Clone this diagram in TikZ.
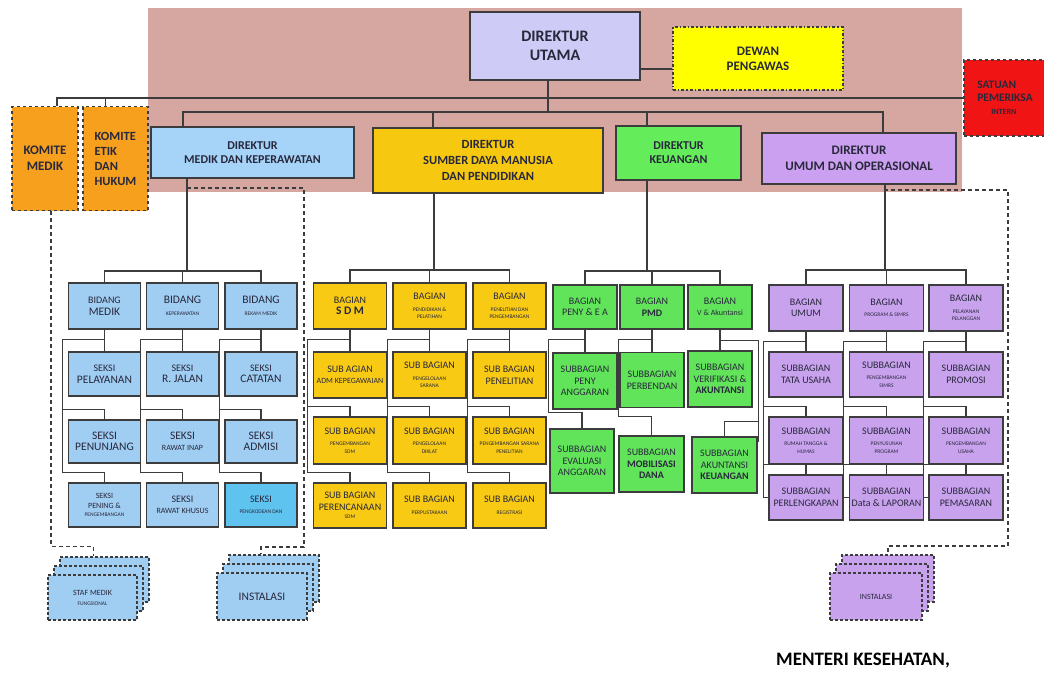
\documentclass[tikz,border=0pt]{standalone}
\usepackage{fontspec}
\setmainfont{Carlito}
\usetikzlibrary{calc}

\definecolor{pinkbg}{RGB}{214,166,161}
\definecolor{duC}{RGB}{207,203,247}
\definecolor{dewC}{RGB}{255,255,0}
\definecolor{satC}{RGB}{240,20,20}
\definecolor{dmC}{RGB}{166,212,248}
\definecolor{sdmC}{RGB}{247,200,16}
\definecolor{keuC}{RGB}{100,236,90}
\definecolor{umC}{RGB}{204,160,240}
\definecolor{orgC}{RGB}{247,160,30}
\definecolor{bluC}{RGB}{160,205,242}
\definecolor{bluH}{RGB}{95,195,240}
\definecolor{yelC}{RGB}{248,202,20}
\definecolor{grnC}{RGB}{98,228,90}
\definecolor{purC}{RGB}{201,162,238}
\definecolor{edge}{RGB}{60,60,60}
\definecolor{ink}{RGB}{40,40,60}

\newcommand{\szL}{\fontsize{11.5}{13}\selectfont}
\newcommand{\szM}{\fontsize{8}{9.5}\selectfont}
\newcommand{\szS}{\fontsize{5.5}{7}\selectfont}

% bagian -> three sub units, spine on the left
\newcommand{\branch}[4]{%
  \draw[conn] (#1.south) -- (#2.north);
  \draw[conn] ($(#1.south)+(0,10)$) -| ($(#4.north west)+(-5,-10)$) -| (#4.north);
  \draw[conn] ($(#3.north west)+(-5,-10)$) -| (#3.north);
}

\tikzset{
  box/.style={draw=edge, line width=1.3pt, align=center, inner sep=1pt, text=ink,
    font=\fontsize{10}{11.5}\selectfont},
  head/.style={box, font=\fontsize{12}{14}\selectfont\bfseries},
  conn/.style={draw=edge, line width=1.1pt},
  dl/.style={draw=edge, line width=1.1pt, dash pattern=on 4pt off 3pt},
  stk/.style={draw=edge, line width=1.2pt, dash pattern=on 3pt off 2pt, align=center, text=ink},
  bl/.style={box, fill=bluC, minimum width=72pt},
  yl/.style={box, fill=yelC, minimum width=73pt},
  gr/.style={box, fill=grnC, minimum width=64pt},
  pu/.style={box, fill=purC, minimum width=74pt}
}

\begin{document}
\begin{tikzpicture}[x=1pt, y=-1pt]
\useasboundingbox (0,0) rectangle (1044,675);
\fill[pinkbg] (148,8) rectangle (962,192);

% top level
\node[head, fill=duC, minimum width=170pt, minimum height=68pt, font=\fontsize{16}{19}\selectfont\bfseries] (du) at (555,46) {DIREKTUR\\UTAMA};
\node[head, fill=dewC, dash dot, minimum width=170pt, minimum height=63pt, font=\fontsize{13}{15}\selectfont\bfseries] (dewan) at (758,58.5) {DEWAN\\PENGAWAS};
\node[head, fill=satC, dashed, minimum width=82pt, minimum height=76pt, align=left, font=\fontsize{11.5}{13}\selectfont\bfseries] (sat) at (1005,98) {SATUAN\\PEMERIKSA\\\hspace{14pt}\szM INTERN};
\node[head, fill=orgC, dashed, minimum width=66pt, minimum height=104pt, font=\fontsize{13}{16}\selectfont\bfseries] (kmed) at (45,158.5) {KOMITE\\MEDIK};
\node[head, fill=orgC, dashed, minimum width=65pt, minimum height=104pt, align=left, font=\fontsize{12.5}{15}\selectfont\bfseries] (ketik) at (115.5,158.5) {KOMITE\\ETIK\\DAN\\HUKUM};

\node[head, fill=dmC, minimum width=203pt, minimum height=51pt] (dirM) at (252.5,152.5) {DIREKTUR\\MEDIK DAN KEPERAWATAN};
\node[head, fill=sdmC, minimum width=230pt, minimum height=65pt, font=\fontsize{12.5}{16}\selectfont\bfseries] (dirS) at (488,160.5) {DIREKTUR\\SUMBER DAYA MANUSIA\\DAN PENDIDIKAN};
\node[head, fill=keuC, minimum width=125pt, minimum height=54pt] (dirK) at (678.5,153) {DIREKTUR\\KEUANGAN};
\node[head, fill=umC, minimum width=194pt, minimum height=51pt, font=\fontsize{13}{16}\selectfont\bfseries] (dirU) at (859,158.5) {DIREKTUR\\UMUM DAN OPERASIONAL};

\draw[conn] (du.-15) -- (du.-15 -| dewan.west);
\draw[conn] ([xshift=12pt]kmed.north) |- (sat.west);
\draw[conn] ([xshift=-10pt]ketik.north) |- (sat.west);
\coordinate (bD) at (548,112);
\draw[conn] (du.south -| bD) -- (bD);
\draw[conn] ([xshift=-69.5pt]dirM.north) |- (bD) -| ([xshift=24pt]dirU.north);
\draw[conn] ([xshift=-55pt]dirS.north) |- (bD);
\draw[conn] ([xshift=-31.5pt]dirK.north) |- (bD);

% medik dan keperawatan
\node[bl, minimum height=46pt] (bidM) at (104.5,306) {BIDANG\\\szL MEDIK};
\node[bl, minimum height=46pt] (bidK) at (182.5,306) {\szL BIDANG\\\szS KEPERAWATAN};
\node[bl, minimum height=46pt] (bidR) at (261,306) {\szL BIDANG\\\szS REKAM MEDIK};
\node[bl, minimum height=44pt] (s11) at (104.5,374) {SEKSI\\\szL PELAYANAN};
\node[bl, minimum height=44pt] (s12) at (182.5,374) {SEKSI\\\szL R. JALAN};
\node[bl, minimum height=44pt] (s13) at (261,374) {SEKSI\\\szL CATATAN};
\node[bl, minimum height=43pt] (s21) at (104.5,441.5) {\szL SEKSI\\\szL PENUNJANG};
\node[bl, minimum height=43pt] (s22) at (182.5,441.5) {\szL SEKSI\\\szM RAWAT INAP};
\node[bl, minimum height=43pt] (s23) at (261,441.5) {\szL SEKSI\\\szL ADMISI};
\node[bl, minimum height=44pt] (s31) at (104.5,505) {\szM SEKSI\\[-2pt]\szM PENING \&\\[-3pt]\szS PENGEMBANGAN};
\node[bl, minimum height=44pt] (s32) at (182.5,505) {SEKSI\\\szM RAWAT KHUSUS};
\node[bl, fill=bluH, minimum height=44pt] (s33) at (261,505) {SEKSI\\\szS PENGKODEAN DAN};

\coordinate (bM) at (187,271);
\draw[conn] (dirM.south -| bM) -- (bM);
\draw[conn] (bidM.north) |- (bM) -| (bidR.north);
\draw[conn] (bidK.north) -- (bidK.north |- bM);
\branch{bidM}{s11}{s21}{s31}
\branch{bidK}{s12}{s22}{s32}
\branch{bidR}{s13}{s23}{s33}

% sumber daya manusia
\node[yl, minimum height=46pt] (sdm) at (350,306) {BAGIAN\\\szL\bfseries S D M};
\node[yl, minimum height=46pt] (pend) at (429.5,306) {BAGIAN\\\szS PENDIDIKAN \&\\[-4pt]\szS PELATIHAN};
\node[yl, minimum height=46pt] (pen) at (509.5,306) {BAGIAN\\\szS PENELITIAN DAN\\[-4pt]\szS PENGEMBANGAN};
\node[yl, minimum height=46pt] (y11) at (350,375) {SUB AGIAN\\\szM ADM KEPEGAWAIAN};
\node[yl, minimum height=46pt] (y12) at (429.5,375) {SUB BAGIAN\\\szS PENGELOLAAN\\[-4pt]\szS SARANA};
\node[yl, minimum height=46pt] (y13) at (509.5,375) {SUB BAGIAN\\PENELITIAN};
\node[yl, minimum height=47pt] (y21) at (350,440.5) {SUB BAGIAN\\\szS PENGEMBANGAN\\[-4pt]\szS SDM};
\node[yl, minimum height=47pt] (y22) at (429.5,440.5) {SUB BAGIAN\\\szS PENGELOLAAN\\[-4pt]\szS DIKLAT};
\node[yl, minimum height=47pt] (y23) at (509.5,440.5) {SUB BAGIAN\\\szS PENGEMBANGAN SARANA\\[-4pt]\szS PENELITIAN};
\node[yl, minimum height=45pt] (y31) at (350,505.5) {SUB BAGIAN\\PERENCANAAN\\[-3pt]\szS SDM};
\node[yl, minimum height=45pt] (y32) at (429.5,505.5) {SUB BAGIAN\\\szS PERPUSTAKAAN};
\node[yl, minimum height=45pt] (y33) at (509.5,505.5) {SUB BAGIAN\\\szS REGISTRASI};

\coordinate (bS) at (434,270);
\draw[conn] (dirS.south -| bS) -- (bS);
\draw[conn] (sdm.north) |- (bS) -| (pen.north);
\draw[conn] (pend.north) -- (pend.north |- bS);
\branch{sdm}{y11}{y21}{y31}
\branch{pend}{y12}{y22}{y32}
\branch{pen}{y13}{y23}{y33}

% keuangan
\node[gr, minimum height=44pt] (gb1) at (585,307) {BAGIAN\\PENY \& E A};
\node[gr, minimum height=44pt] (gb2) at (652,307) {BAGIAN\\\bfseries PMD};
\node[gr, minimum height=44pt] (gb3) at (720,307) {BAGIAN\\\szM V \& Akuntansi};
\node[gr, minimum height=56pt] (g11) at (585,381) {SUBBAGIAN\\PENY\\ANGGARAN};
\node[gr, minimum height=55pt] (g12) at (652,380) {SUBBAGIAN\\PERBENDAN};
\node[gr, minimum height=56pt] (g13) at (720,379) {SUBBAGIAN\\VERIFIKASI \&\\\bfseries AKUNTANSI};
\node[gr, minimum height=64pt] (g21) at (582,461) {SUBBAGIAN\\EVALUASI\\ANGGARAN};
\node[gr, minimum width=65pt, minimum height=56pt] (g22) at (651.5,464) {SUBBAGIAN\\\bfseries MOBILISASI\\\bfseries DANA};
\node[gr, minimum width=65pt, minimum height=56pt] (g23) at (724.5,465) {SUBBAGIAN\\AKUNTANSI\\\bfseries KEUANGAN};

\coordinate (bK) at (647,271);
\draw[conn] (dirK.south -| bK) -- (bK);
\draw[conn] (gb1.north) |- (bK) -| (gb3.north);
\draw[conn] (gb2.north) -- (gb2.north |- bK);
\draw[conn] (gb1.south) -- (g11.north);
\draw[conn] ($(gb1.south)+(0,10)$) -| ($(g21.north west)+(-1,-16)$) -| (g21.north);
\draw[conn] (gb2.south) -- (g12.north);
\draw[conn] ($(gb2.south)+(0,10)$) -| ($(g22.north west)+(0.5,-19)$) -| (g22.north);
\draw[conn] (gb3.south) -- (g13.north);
\draw[conn] ($(gb3.south)+(0,11)$) -| ($(g23.north east)+(1,6)$);
\draw[conn] ($(g23.north east)+(1,-15)$) -| (g23.north);

% umum dan operasional
\node[pu, minimum height=46pt] (pb1) at (806,308) {BAGIAN\\UMUM};
\node[pu, minimum height=46pt] (pb2) at (886.5,308) {BAGIAN\\\szS PROGRAM \& SIMRS};
\node[pu, minimum height=46pt] (pb3) at (966,308) {BAGIAN\\\szS PELAYANAN\\[-4pt]\szS PELANGGAN};
\node[pu, minimum height=45pt] (p11) at (806,374.5) {SUBBAGIAN\\TATA USAHA};
\node[pu, minimum height=45pt] (p12) at (886.5,374.5) {SUBBAGIAN\\\szS PENGEMBANGAN\\[-4pt]\szS SIMRS};
\node[pu, minimum height=45pt] (p13) at (966,374.5) {SUBBAGIAN\\PROMOSI};
\node[pu, minimum height=47pt] (p21) at (806,440.5) {SUBBAGIAN\\\szS RUMAH TANGGA \&\\[-4pt]\szS HUMAS};
\node[pu, minimum height=47pt] (p22) at (886.5,440.5) {SUBBAGIAN\\\szS PENYUSUNAN\\[-4pt]\szS PROGRAM};
\node[pu, minimum height=47pt] (p23) at (966,440.5) {SUBBAGIAN\\\szS PENGEMBANGAN\\[-4pt]\szS USAHA};
\node[pu, minimum height=45pt] (p31) at (806,497.5) {SUBBAGIAN\\PERLENGKAPAN};
\node[pu, minimum height=45pt] (p32) at (886.5,497.5) {SUBBAGIAN\\Data \& LAPORAN};
\node[pu, minimum height=45pt] (p33) at (966,497.5) {SUBBAGIAN\\PEMASARAN};

\coordinate (bU) at (885,270);
\draw[conn] (dirU.south -| bU) -- (bU);
\draw[conn] (pb1.north) |- (bU) -| (pb3.north);
\draw[conn] (pb2.north) -- (pb2.north |- bU);
\branch{pb1}{p11}{p21}{p31}
\branch{pb2}{p12}{p22}{p32}
\branch{pb3}{p13}{p23}{p33}
\draw[conn] ($(p31.north west)+(-5,-10)$) |- (p31.west);
\draw[conn] ($(p32.north west)+(-5,-10)$) |- (p32.west);
\draw[conn] ($(p33.north west)+(-5,-10)$) |- (p33.west);

% fungsional / instalasi
\node[stk, fill=bluC, minimum width=89pt, minimum height=45pt] (stafC) at (104.5,579.5) {};
\node[stk, fill=bluC, minimum width=89pt, minimum height=45pt] (stafB) at (98.5,588.5) {};
\node[stk, fill=bluC, minimum width=89pt, minimum height=45pt] (staf) at (92.5,597.5) {\szM STAF MEDIK\\[-2pt]\szS FUNGSIONAL};
\node[stk, fill=bluC, minimum width=90pt, minimum height=47pt] (instC) at (274,578.5) {};
\node[stk, fill=bluC, minimum width=90pt, minimum height=47pt] (instB) at (268,587.5) {};
\node[stk, fill=bluC, minimum width=90pt, minimum height=47pt, font=\szL] (inst) at (262,596.5) {INSTALASI};
\node[stk, fill=purC, minimum width=92pt, minimum height=47pt] (instPC) at (888,578.5) {};
\node[stk, fill=purC, minimum width=92pt, minimum height=47pt] (instPB) at (882,587.5) {};
\node[stk, fill=purC, minimum width=92pt, minimum height=47pt, font=\szM] (instP) at (876,596.5) {INSTALASI};

\draw[dl] ([xshift=6pt]kmed.south) -- ++(0,335) -| ([xshift=-11pt]stafC.north);
\coordinate (dmx) at (187,188);
\draw[dl] (dmx) -- ++(117,0) -- ++(0,359) -| ([xshift=-13pt]instC.north);
\coordinate (umx) at (884,190);
\draw[dl] (umx) -- ++(124,0) -- ++(0,356) -| (instPC.north);

\node[font=\fontsize{19}{21}\selectfont\bfseries, text=black] (menkes) at (863,661) {MENTERI KESEHATAN,};
\end{tikzpicture}
\end{document}
